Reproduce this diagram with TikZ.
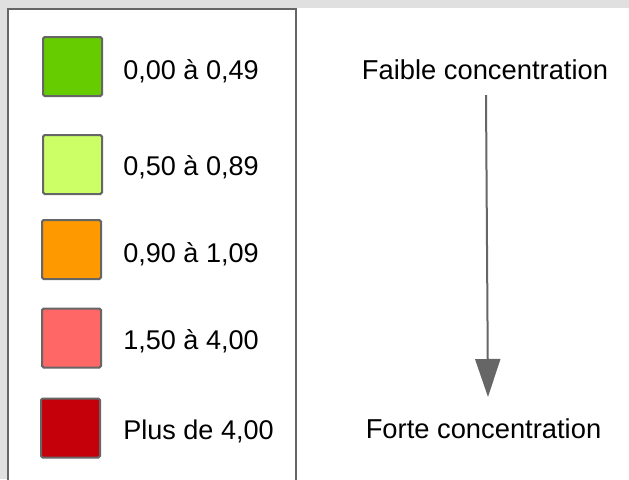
\documentclass[tikz,border=0pt]{standalone}
\usepackage{fontspec}
\setmainfont{Liberation Sans}
\usetikzlibrary{arrows.meta}
\definecolor{edge}{HTML}{666666}
\definecolor{bgray}{HTML}{E0E0E0}
\definecolor{c1}{HTML}{66CC00}
\definecolor{c2}{HTML}{CCFF66}
\definecolor{c3}{HTML}{FF9900}
\definecolor{c4}{HTML}{FF6666}
\definecolor{c5}{HTML}{C5000B}
\begin{document}
\begin{tikzpicture}[x=0.75pt,y=-0.75pt,
  swatch/.style={draw=edge,line width=1.5pt,rounded corners=1.2pt,minimum size=44.25pt,inner sep=0pt},
  lbl/.style={anchor=base west,inner sep=0pt,font=\fontsize{20.3pt}{24pt}\selectfont},
  captext/.style={anchor=base,inner sep=0pt,font=\fontsize{20.5pt}{24pt}\selectfont}]
\useasboundingbox (0,0) rectangle (629,479);
\fill[bgray] (0,0) rectangle (629,8);
\fill[bgray] (0,0) rectangle (7,479);
\draw[edge,line width=1.5pt] (8,480) -- (8,9) -- (296,9) -- (296,480);
\node[swatch,fill=c1] (s1) at (72.5,66.5) {};
\node[swatch,fill=c2] (s2) at (72.5,164.5) {};
\node[swatch,fill=c3] (s3) at (71.5,249.5) {};
\node[swatch,fill=c4] (s4) at (71.5,338) {};
\node[swatch,fill=c5] (s5) at (70.5,428) {};
\node[lbl] (t1) at (123,79) {0,00 à 0,49};
\node[lbl] (t2) at (123,175) {0,50 à 0,89};
\node[lbl] (t3) at (123,262) {0,90 à 1,09};
\node[lbl] (t4) at (123,349) {1,50 à 4,00};
\node[lbl] (t5) at (123,439) {Plus de 4,00};
\node[captext] (faible) at (485,79) {Faible concentration};
\node[captext] (forte) at (483.5,438) {Forte concentration};
\coordinate (a1) at (486,95);
\coordinate (a2) at (488,397);
\draw[edge,line width=1.5pt,-{Triangle[width=18.75pt,length=28.5pt]}] (a1) -- (a2);
\end{tikzpicture}
\end{document}
